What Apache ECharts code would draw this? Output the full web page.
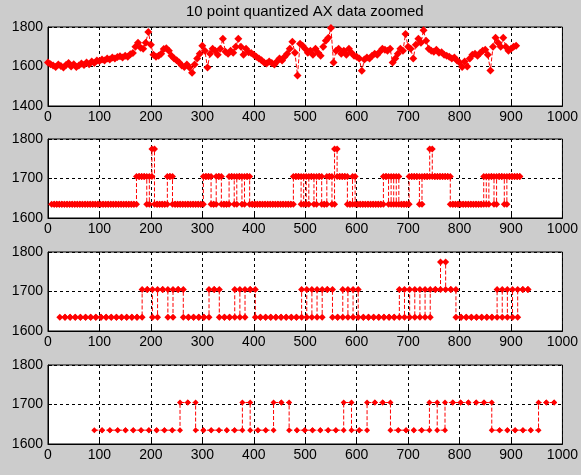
<!DOCTYPE html>
<html>
<head>
<meta charset="utf-8">
<title>10 point quantized AX data zoomed</title>
<script src="https://cdn.jsdelivr.net/npm/echarts@6.0.0/dist/echarts.min.js"></script>
<style>
html, body { margin: 0; padding: 0; background: #cccccc; }
#chart { width: 581px; height: 475px; }
</style>
</head>
<body>
<div id="chart"></div>
<script>
var titleText = '10 point quantized AX data zoomed';

// raw AX data (top panel), one sample every 5 units from 0
var rawStart = 0, rawStep = 5;
var rawValues = [
    1620, 1612, 1605, 1598, 1610, 1602, 1595, 1608, 1618, 1600,
    1612, 1598, 1605, 1615, 1608, 1620, 1612, 1625, 1618, 1630,
    1628, 1635, 1630, 1640, 1636, 1645, 1640, 1648, 1652, 1646,
    1655, 1650, 1662, 1668, 1700, 1720, 1695, 1690, 1720, 1775,
    1710, 1660, 1650, 1655, 1665, 1688, 1692, 1680, 1655, 1640,
    1632, 1620, 1605, 1598, 1610, 1595, 1568, 1610, 1640, 1665,
    1705, 1680, 1595, 1665, 1690, 1680, 1660, 1690, 1740, 1675,
    1665, 1680, 1670, 1700, 1740, 1700, 1660, 1690, 1672, 1668,
    1660, 1650, 1640, 1632, 1620, 1615, 1625, 1618, 1610, 1625,
    1640, 1630, 1650, 1665, 1690, 1725, 1670, 1555, 1715, 1705,
    1690, 1670, 1680, 1660, 1690, 1670, 1655, 1700, 1730, 1745,
    1795, 1620, 1680, 1690, 1665, 1680, 1660, 1690, 1670, 1655,
    1650, 1640, 1578, 1635, 1645, 1640, 1655, 1665, 1660, 1675,
    1690, 1685, 1680, 1690, 1620, 1640, 1665, 1690, 1680, 1765,
    1700, 1690, 1640, 1710, 1740, 1720, 1783, 1730, 1690, 1680,
    1675, 1685, 1670, 1672, 1660, 1655, 1650, 1640, 1645, 1630,
    1620, 1598, 1625, 1600, 1640, 1660, 1665, 1655, 1668, 1680,
    1685, 1660, 1580, 1700, 1745, 1720, 1700, 1745, 1700, 1680,
    1690, 1700, 1705
];

// quantized, every 5 units from 7
var q5Start = 7, q5Step = 5;
var q5Values = [
    1635, 1635, 1635, 1635, 1635, 1635, 1635, 1635, 1635, 1635, 1635,
    1635, 1635, 1635, 1635, 1635, 1635, 1635, 1635, 1635, 1635, 1635,
    1635, 1635, 1635, 1635, 1635, 1635, 1635, 1635, 1635, 1635, 1635,
    1705, 1705, 1705, 1705, 1635, 1705, 1775, 1635, 1635, 1635, 1635, 1635,
    1705, 1705,
    1635, 1635, 1635, 1635, 1635, 1635, 1635, 1635, 1635, 1635, 1635, 1635,
    1705, 1705, 1705, 1635, 1635, 1705, 1705, 1635, 1635, 1635,
    1705, 1705, 1635, 1705, 1705, 1635, 1705, 1705,
    1635, 1635, 1635, 1635, 1635, 1635, 1635, 1635, 1635, 1635, 1635, 1635, 1635, 1635, 1635, 1635, 1635,
    1705, 1705, 1705, 1635, 1705, 1635, 1705, 1705, 1635, 1705, 1705, 1635,
    1635, 1705, 1705, 1635, 1775, 1705, 1705, 1705, 1705, 1635, 1635, 1705,
    1635, 1635, 1635, 1635, 1635, 1635, 1635, 1635, 1635, 1635, 1635,
    1705, 1705, 1635, 1705, 1635, 1705, 1635, 1635, 1635, 1635,
    1705, 1705, 1705, 1705, 1635, 1705, 1705, 1705, 1775,
    1705, 1705, 1705, 1705, 1705, 1705, 1705,
    1635, 1635, 1635, 1635, 1635, 1635, 1635, 1635, 1635, 1635, 1635, 1635, 1635,
    1705, 1635, 1705, 1705, 1635, 1705, 1705, 1705, 1635, 1705, 1705, 1705, 1705, 1705, 1705
];

// quantized, every 10 units from 23
var q10Start = 23, q10Step = 10;
var q10Values = [
    1635, 1635, 1635, 1635, 1635, 1635, 1635, 1635, 1635, 1635, 1635, 1635, 1635, 1635, 1635, 1635,
    1705, 1705, 1635, 1705, 1705, 1635, 1705, 1705, 1635,
    1635, 1635, 1635, 1635,
    1705, 1705, 1635,
    1635, 1635,
    1705, 1635, 1705, 1705, 1635,
    1635, 1635, 1635, 1635, 1635, 1635, 1635, 1635,
    1705, 1635, 1705, 1635, 1705, 1705, 1635, 1635, 1705, 1635, 1705, 1635,
    1635, 1635, 1635, 1635, 1635, 1635, 1635,
    1705, 1635, 1705, 1635, 1705, 1635, 1705, 1705, 1775, 1705, 1705, 1635,
    1635, 1635, 1635, 1635, 1635, 1635, 1635,
    1705, 1635, 1705, 1635, 1705, 1705, 1705
];

// quantized, every ~15 units from 90
var q15Start = 90, q15Step = 15.15;
var q15Values = [
    1635, 1635, 1635, 1635, 1635, 1635, 1635, 1635, 1635, 1635, 1635,
    1705, 1705,
    1635, 1635, 1635, 1635, 1635, 1635,
    1705,
    1635, 1635, 1635,
    1705, 1705,
    1635, 1635, 1635, 1635, 1635, 1635, 1635,
    1705,
    1635, 1635,
    1705, 1705, 1705,
    1635, 1635, 1635, 1635, 1635,
    1705,
    1635,
    1705, 1705, 1705, 1705, 1705, 1705,
    1635, 1635, 1635, 1635, 1635, 1635,
    1705, 1705, 1705
];

var font = 'Arial, "Liberation Sans", sans-serif';

function points(start, step, values) {
    return values.map(function (v, i) { return [start + i * step, v]; });
}

// matlab stairs: every corner becomes a point (and gets a marker)
function stairs(start, step, values) {
    var pts = [];
    values.forEach(function (v, i) {
        var x = start + i * step;
        if (i > 0) pts.push([x, values[i - 1]]);
        pts.push([x, v]);
    });
    return pts;
}

function plain(v) { return String(v); }

var tops = [27, 139, 252, 365];
var yRanges = [[1400, 1800, 200], [1600, 1800, 100], [1600, 1800, 100], [1600, 1800, 100]];
var markSizes = [8, 7, 7, 6];
var seriesData = [
    points(rawStart, rawStep, rawValues),
    stairs(q5Start, q5Step, q5Values),
    stairs(q10Start, q10Step, q10Values),
    stairs(q15Start, q15Step, q15Values)
];

var grids = [], xAxes = [], yAxes = [], series = [];
tops.forEach(function (t, i) {
    grids.push({
        left: 48, right: 18, top: t, height: 79,
        show: true, backgroundColor: '#fff', borderColor: '#000', borderWidth: 1
    });
    xAxes.push({
        type: 'value', gridIndex: i, min: 0, max: 1000, interval: 100,
        axisLine: { show: true, lineStyle: { color: '#000' } },
        axisTick: { show: true, inside: true, length: 4, lineStyle: { color: '#000' } },
        axisLabel: { fontSize: 14, color: '#000', fontFamily: font, margin: 4, formatter: plain },
        splitLine: { show: true, lineStyle: { color: '#000', type: [3, 3] } }
    });
    yAxes.push({
        type: 'value', gridIndex: i, min: yRanges[i][0], max: yRanges[i][1], interval: yRanges[i][2],
        axisLine: { show: true, lineStyle: { color: '#000' } },
        axisTick: { show: true, inside: true, length: 4, lineStyle: { color: '#000' } },
        axisLabel: { fontSize: 14, color: '#000', fontFamily: font, margin: 5, formatter: plain },
        splitLine: { show: true, lineStyle: { color: '#000', type: [3, 3] } }
    });
    series.push({
        type: 'line', xAxisIndex: i, yAxisIndex: i,
        data: seriesData[i],
        symbol: 'diamond', symbolSize: markSizes[i], showAllSymbol: true,
        lineStyle: { color: '#ff0000', width: 1, type: [4, 2] },
        itemStyle: { color: '#ff0000' },
        clip: true
    });
});

var option = {
    backgroundColor: '#cccccc',
    animation: false,
    title: {
        text: titleText, left: 181, top: -1,
        textStyle: { fontSize: 15, fontWeight: 'normal', color: '#000', fontFamily: font }
    },
    grid: grids,
    xAxis: xAxes,
    yAxis: yAxes,
    series: series
};

var myChart = echarts.init(document.getElementById('chart'));
myChart.setOption(option);
</script>
</body>
</html>
